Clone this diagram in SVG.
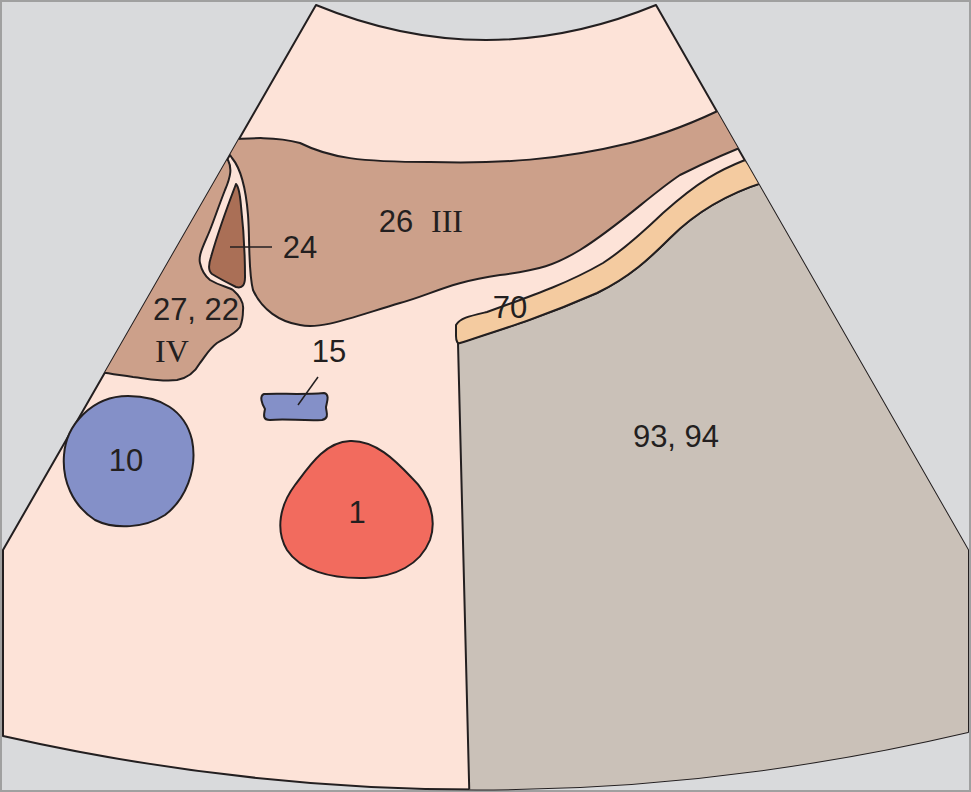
<svg xmlns="http://www.w3.org/2000/svg" width="971" height="792" viewBox="0 0 971 792">
<style>
.o{stroke:#231f20;stroke-width:2;stroke-linejoin:round}
.t{font-family:"Liberation Sans",Arial,sans-serif;font-size:31px;fill:#231f20;text-anchor:middle}
.r{font-family:"Liberation Serif","Times New Roman",serif;font-size:32px;fill:#231f20;text-anchor:middle}
</style>
<defs><clipPath id="fan"><path d="M316,5 Q486,75 656,5 L968,550 L968,732 Q486,845 3,736 L3,550 Z"/></clipPath></defs>
<rect x="1" y="1" width="969" height="790" fill="#d9dadc" stroke="#a0a0a0" stroke-width="2"/>
<g id="fan-bg"><path d="M316,5 Q486,75 656,5 L968,550 L968,732 Q486,845 3,736 L3,550 Z" fill="#fde3d8" class="o"/></g>
<g clip-path="url(#fan)">
<g id="n93"><path class="o" fill="#cac1b8" d="M458,343 C500,330 540,318 597,293 C630,277 650,258 670,238 C690,218 720,196 765,182 L1000,182 L1000,820 L470,820 Z"/></g>
<g id="n70"><path class="o" fill="#f4cba0" d="M745,160 C720,170 700,180 663,213 C640,235 620,252 603,263 C570,282 540,293 487,312 C470,316 460,318 456,325 L456,336 C456,342 458,344 460,343 C500,330 540,318 597,293 C630,277 650,258 670,238 C690,218 720,196 765,182 Z"/></g>
<g id="n26"><path class="o" fill="#cca08a" d="M220,140 C250,138 275,136 300,143 C330,158 360,162 430,162 C500,164 560,160 630,143 C670,133 700,120 730,105 L760,140 C720,155 700,165 680,175 C650,195 620,225 580,250 C555,265 540,270 500,275 C450,282 430,295 400,303 C350,318 320,330 300,325 C280,322 262,310 253,290 C248,270 250,240 248,215 C246,190 242,170 232,158 Z"/></g>
<g id="n27"><path class="o" fill="#cca08a" d="M228,160 C232,168 231,176 225,190 C218,208 214,220 210,230 C204,245 198,255 200,263 C202,272 205,276 210,280 C220,286 228,287 233,290 C241,297 244,303 243,310 C243,318 242,322 240,327 C234,335 225,338 217,343 C208,350 205,357 200,363 C195,372 188,378 177,380 C160,382 145,378 133,377 C120,375 112,374 100,372 L60,372 L60,150 Z"/></g>
<g id="n24"><path class="o" fill="#aa6f56" d="M236,184 C228,205 218,232 211,257 C208,266 208,271 212,274 C220,279 228,283 236,287 C243,289 245,284 245,277 C245,260 244,233 241,206 C240,194 239,187 236,184 Z"/></g>
</g>
<g id="n10"><path class="o" fill="#8490c8" d="M128,396 C160,396 185,410 192,440 C198,470 185,500 165,515 C145,528 115,530 95,520 C72,505 62,480 64,455 C66,425 92,396 128,396 Z"/></g>
<g id="n1"><path class="o" fill="#f26b5e" d="M350,441 C375,440 395,460 412,478 C430,495 437,520 430,540 C420,565 395,577 365,578 C330,579 300,570 287,550 C275,530 280,505 295,485 C310,465 325,442 350,441 Z"/></g>
<g id="n15"><path class="o" fill="#8490c8" d="M264,394 C280,393 300,395 324,393 C330,394 327,402 326,407 C326,412 330,418 322,420 C300,421 285,418 270,420 C262,420 264,414 265,409 C262,404 259,396 264,394 Z"/></g>
<g id="connectors" stroke="#231f20" stroke-width="1.5">
<line x1="230" y1="247" x2="272" y2="247"/>
<line x1="318" y1="377" x2="298" y2="405"/>
</g>
<g id="labels">
<text class="t" x="396" y="232">26</text><text class="r" x="447" y="232">III</text>
<text class="t" x="300" y="258">24</text>
<text class="t" x="196" y="320">27, 22</text><text class="r" x="172" y="362">IV</text>
<text class="t" x="510" y="318">70</text>
<text class="t" x="329" y="362">15</text>
<text class="t" x="676" y="447">93, 94</text>
<text class="t" x="126" y="471">10</text>
<text class="t" x="357" y="523">1</text>
</g>
</svg>
